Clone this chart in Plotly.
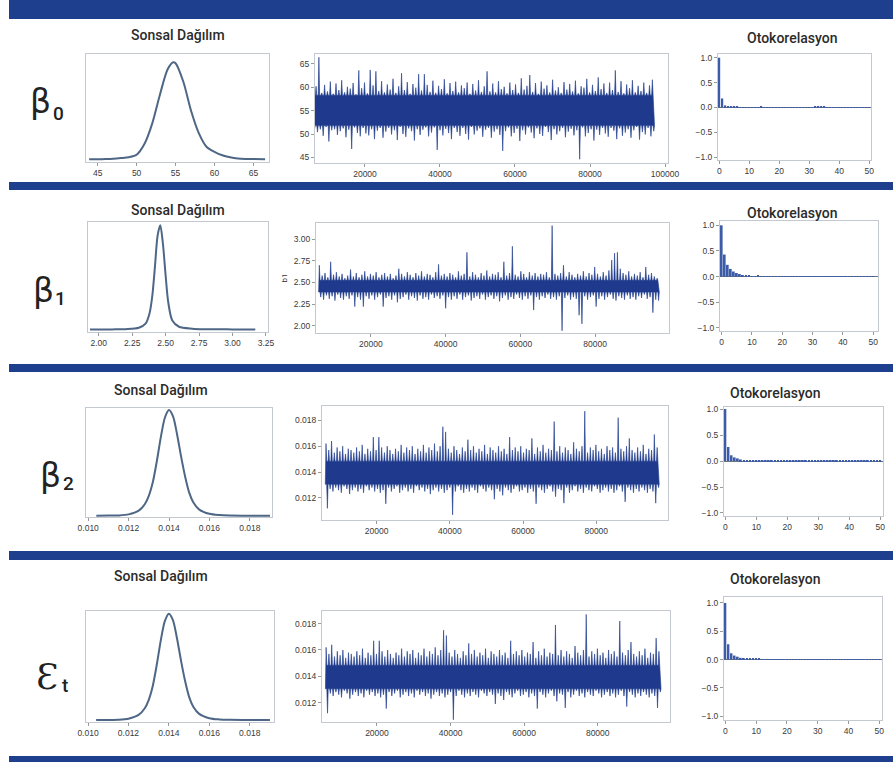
import plotly.graph_objects as go

W, H = 893, 762

# ---------------- DATA ----------------
# Posterior density (relative heights)
d0_x = [43.9, 45, 46, 47, 48, 49, 50, 51, 52, 53, 54, 54.7, 55, 56, 57, 58, 59, 60, 61, 62, 63, 64, 65, 66.5]
d0_y = [.004, .005, .006, .009, .016, .025, .05, .16, .37, .67, .93, 1.0, .99, .80, .50, .27, .13, .08, .045, .025, .013, .008, .006, .004]

d1_x = [1.935, 2.0, 2.1, 2.2, 2.3, 2.35, 2.38, 2.40, 2.42, 2.44, 2.46, 2.48, 2.50, 2.52, 2.55, 2.60, 2.70, 2.80, 3.0, 3.17]
d1_y = [.004, .004, .005, .007, .02, .06, .16, .32, .60, .90, 1.0, .82, .52, .26, .09, .03, .012, .007, .005, .004]

d2_x = [0.0104, 0.0110, 0.0115, 0.0120, 0.0125, 0.0128, 0.0130, 0.0132, 0.0134, 0.0136, 0.0138, 0.0140,
        0.0142, 0.0144, 0.0146, 0.0148, 0.0150, 0.0152, 0.0155, 0.0160, 0.0165, 0.0170, 0.0180, 0.0190]
d2_y = [.002, .003, .005, .015, .05, .11, .19, .32, .52, .75, .93, 1.0,
        .94, .77, .56, .37, .22, .13, .06, .02, .008, .004, .002, .002]

# Trace plots: dense central band of the chain (low, high) and the max / min inside each block of iterations
iter_start, iter_step = 6000, 760

b0_core = (51.8, 58.3)
b0_hi = [59.5, 60.2, 66.4, 58.8, 60.5, 59.1, 61.2, 58.6, 60.8, 59.4,
         61.5, 58.9, 60.1, 59.7, 60.9, 58.5, 63.6, 59.8, 61.0, 58.7,
         63.7, 60.4, 63.4, 59.2, 61.3, 58.9, 60.6, 59.5, 61.8, 58.8,
         60.2, 63.0, 59.4, 61.1, 58.6, 60.7, 59.9, 62.8, 59.3, 62.8,
         60.5, 59.0, 61.4, 58.8, 60.3, 59.6, 61.7, 58.7, 60.9, 59.2,
         61.2, 58.9, 60.4, 59.8, 61.0, 58.6, 60.7, 59.3, 61.5, 59.0,
         60.2, 63.4, 59.1, 60.8, 58.9, 61.3, 59.6, 60.1, 58.7, 61.0,
         59.4, 60.6, 58.8, 61.9, 59.5, 60.3, 62.6, 59.0, 60.9, 58.6,
         61.2, 59.7, 60.4, 58.9, 61.6, 59.3, 60.0, 58.8, 61.1, 59.5,
         60.7, 59.1, 61.4, 58.7, 60.2, 59.9, 61.8, 58.9, 60.5, 59.2,
         62.1, 59.6, 60.8, 58.8, 61.0, 59.4, 63.6, 59.0, 61.3, 58.7,
         60.6, 59.8, 61.5, 58.9, 60.3, 59.2, 61.0, 58.8, 60.4, 61.6]
b0_lo = [51.2, 50.4, 51.0, 49.6, 51.5, 48.4, 50.8, 51.0, 49.8, 50.6,
         51.2, 49.3, 50.9, 46.8, 51.4, 50.2, 49.5, 51.3, 50.1, 49.7,
         51.0, 48.9, 50.7, 51.3, 49.2, 50.5, 51.3, 49.9, 50.8, 48.7,
         51.5, 50.0, 49.4, 51.2, 50.6, 48.6, 51.0, 49.8, 50.9, 51.4,
         49.5, 50.3, 51.4, 46.6, 50.8, 49.7, 51.1, 50.2, 48.9, 51.3,
         50.4, 49.6, 51.3, 50.0, 48.8, 51.5, 49.9, 50.7, 51.2, 49.4,
         50.9, 51.3, 49.2, 50.5, 51.0, 49.8, 46.4, 50.6, 51.4, 49.5,
         50.2, 51.1, 48.5, 50.8, 49.9, 51.4, 50.3, 49.1, 51.2, 50.0,
         49.6, 51.5, 50.4, 48.7, 51.0, 49.9, 50.6, 51.3, 49.3, 50.5,
         51.1, 49.7, 50.8, 44.6, 51.4, 49.5, 50.2, 51.0, 48.6, 50.9,
         49.8, 51.3, 50.1, 49.4, 51.3, 50.7, 48.9, 51.2, 49.6, 50.3,
         51.0, 49.2, 50.8, 51.5, 48.8, 50.4, 49.9, 51.3, 49.5, 50.6]

b1_core = (2.39, 2.525)
b1_hi = [2.70, 2.58, 2.61, 2.56, 2.74, 2.59, 2.62, 2.57, 2.60, 2.55,
         2.58, 2.65, 2.57, 2.61, 2.56, 2.59, 2.63, 2.57, 2.60, 2.58,
         2.62, 2.56, 2.59, 2.61, 2.57, 2.60, 2.55, 2.58, 2.66, 2.60,
         2.57, 2.62, 2.59, 2.56, 2.61, 2.58, 2.63, 2.57, 2.60, 2.59,
         2.56, 2.62, 2.71, 2.58, 2.60, 2.57, 2.61, 2.59, 2.56, 2.63,
         2.58, 2.60, 2.85, 2.57, 2.62, 2.59, 2.56, 2.61, 2.58, 2.64,
         2.57, 2.60, 2.59, 2.62, 2.56, 2.74, 2.58, 2.61, 2.92, 2.59,
         2.57, 2.63, 2.60, 2.56, 2.62, 2.58, 2.61, 2.57, 2.60, 2.59,
         2.62, 2.56, 3.16, 2.60, 2.58, 2.61, 2.70, 2.57, 2.62, 2.59,
         2.56, 2.60, 2.58, 2.63, 2.57, 2.61, 2.59, 2.68, 2.60, 2.57,
         2.62, 2.58, 2.64, 2.76, 2.84, 2.85, 2.66, 2.61, 2.59, 2.63,
         2.57, 2.60, 2.58, 2.62, 2.56, 2.68, 2.59, 2.61, 2.57, 2.55]
b1_lo = [2.33, 2.30, 2.35, 2.31, 2.34, 2.29, 2.36, 2.32, 2.30, 2.34,
         2.31, 2.35, 2.22, 2.33, 2.30, 2.22, 2.34, 2.31, 2.35, 2.30,
         2.33, 2.36, 2.22, 2.32, 2.34, 2.30, 2.35, 2.27, 2.31, 2.33,
         2.36, 2.30, 2.34, 2.32, 2.29, 2.35, 2.31, 2.33, 2.30, 2.36,
         2.32, 2.34, 2.31, 2.35, 2.20, 2.33, 2.30, 2.34, 2.31, 2.36,
         2.30, 2.33, 2.35, 2.29, 2.32, 2.34, 2.31, 2.36, 2.30, 2.33,
         2.35, 2.31, 2.34, 2.28, 2.32, 2.35, 2.30, 2.33, 2.31, 2.36,
         2.32, 2.30, 2.34, 2.31, 2.35, 2.18, 2.33, 2.30, 2.34, 2.32,
         2.36, 2.31, 2.33, 2.30, 2.34, 1.94, 2.32, 2.35, 2.30, 2.33,
         2.31, 2.12, 2.02, 2.34, 2.30, 2.33, 2.35, 2.22, 2.31, 2.34,
         2.30, 2.33, 2.36, 2.31, 2.29, 2.34, 2.32, 2.30, 2.35, 2.31,
         2.33, 2.30, 2.34, 2.32, 2.36, 2.31, 2.33, 2.15, 2.30, 2.29]

b2_core = (0.01306, 0.01484)
b2_hi = [.0162, .0157, .0164, .0155, .0159, .0156, .0160, .0154, .0158, .0157,
         .0155, .0159, .0156, .0161, .0154, .0158, .0156, .0167, .0157, .0167,
         .0159, .0155, .0160, .0157, .0154, .0158, .0156, .0161, .0155, .0159,
         .0157, .0160, .0154, .0158, .0156, .0161, .0155, .0159, .0157, .0162,
         .0156, .0160, .0175, .0171, .0158, .0155, .0160, .0157, .0154, .0159,
         .0156, .0165, .0157, .0160, .0155, .0158, .0156, .0161, .0154, .0159,
         .0157, .0155, .0160, .0156, .0158, .0154, .0167, .0157, .0159, .0156,
         .0160, .0155, .0158, .0157, .0166, .0154, .0159, .0156, .0161, .0155,
         .0158, .0157, .0179, .0156, .0160, .0155, .0159, .0157, .0154, .0163,
         .0158, .0156, .0160, .0187, .0155, .0159, .0157, .0161, .0156, .0158,
         .0154, .0160, .0157, .0159, .0155, .0182, .0158, .0156, .0160, .0166,
         .0157, .0155, .0159, .0156, .0161, .0154, .0158, .0157, .0169, .0159]
b2_lo = [.0112, .0127, .0125, .0128, .0126, .0124, .0129, .0127, .0123, .0126,
         .0128, .0125, .0127, .0124, .0129, .0126, .0128, .0125, .0127, .0124,
         .0126, .01155, .0128, .0125, .0127, .0129, .0124, .0126, .0128, .0125,
         .0127, .0124, .0129, .0126, .0128, .0125, .0127, .0123, .0126, .0128,
         .0125, .0127, .0124, .0126, .0128, .0107, .0125, .0129, .0126, .0124,
         .0127, .0125, .0128, .0126, .0124, .0129, .0127, .0125, .0128, .0126,
         .0119, .0127, .0125, .0122, .0128, .0126, .0124, .0127, .0129, .0125,
         .0126, .0128, .0124, .0127, .0125, .01155, .0128, .0126, .0124, .0127,
         .0129, .0125, .0121, .0127, .0126, .0116, .0128, .0124, .0126, .0129,
         .0125, .0127, .0124, .0128, .0126, .0125, .0129, .0127, .0124, .0126,
         .0128, .0125, .0127, .0124, .0126, .0129, .0125, .0117, .0128, .0126,
         .0124, .0127, .0125, .0128, .0126, .0124, .0127, .0125, .0116, .0128]

# Autocorrelation, lags 0..50
lags = list(range(51))
acf_b0 = [1.0, 0.18, 0.04, 0.02, 0.012, 0.010, 0.008, 0.006, 0.007, 0.005, 0.006, 0.004, 0.005, 0.006, 0.008, 0.005, 0.004,
          0.006, 0.005, 0.007, 0.004, 0.005, 0.006, 0.004, 0.005, 0.007, 0.005, 0.004, 0.006, 0.005, 0.004, 0.006, 0.008,
          0.015, 0.010, 0.008, 0.006, 0.007, 0.005, 0.006, 0.004, 0.005, 0.006, 0.004, 0.005, 0.007, 0.004, 0.005, 0.003,
          0.004, 0.003]
acf_b1 = [1.0, 0.43, 0.23, 0.15, 0.10, 0.07, 0.05, 0.03, 0.02, 0.015, 0.012, 0.01, 0.015, 0.01, 0.008, 0.007, 0.006,
          0.008, 0.006, 0.005, 0.007, 0.006, 0.005, 0.004, 0.006, 0.008, 0.005, 0.004, 0.006, 0.005, 0.004, 0.005, 0.006,
          0.004, 0.005, 0.004, 0.003, 0.005, 0.004, 0.006, 0.005, 0.004, 0.003, 0.005, 0.004, 0.006, 0.005, 0.004, 0.003,
          0.005, 0.004]
acf_b2 = [1.0, 0.27, 0.11, 0.07, 0.05, 0.03, 0.02, 0.018, 0.015, 0.012, 0.01, 0.012, 0.008, 0.006, 0.007, 0.005, 0.006,
          0.008, 0.005, 0.004, 0.006, 0.005, 0.004, 0.006, 0.005, 0.007, 0.005, 0.004, 0.006, 0.005, 0.004, 0.006, 0.007,
          0.005, 0.004, 0.008, 0.006, 0.005, 0.004, 0.006, 0.005, 0.004, 0.006, 0.005, 0.004, 0.007, 0.005, 0.004, 0.006,
          0.004, 0.003]

row_symbols = ["β", "β", "β", "Ɛ"]
row_subscripts = ["0", "1", "2", "t"]
trace_ticks = [20000, 40000, 60000, 80000, 100000]

# ---------------- LAYOUT HELPERS ----------------
BLUE = "#1e3f8e"
TRACE = "#1f3a8c"
DENS = "#4e6786"
BAR = "#3d5ca8"
BOX = "#c3c8d1"


def dx(a, b):
    return [a / W, b / W]


def dy(top, bottom):
    return [1 - bottom / H, 1 - top / H]


def trace_polygon(core, hi, lo):
    """Solid central band with a thin excursion to every block maximum (top) and minimum (bottom)."""
    clo, chi = core
    s = iter_step
    top_x, top_y, bot_x, bot_y = [], [], [], []
    for i, (h, l) in enumerate(zip(hi, lo)):
        it = iter_start + i * s
        top_x += [it, it + s * 0.25, it + s * 0.5]
        top_y += [chi, h, chi]
        bot_x += [it + s * 0.5, it + s * 0.75, it + s]
        bot_y += [clo, l, clo]
    xs = [iter_start] + top_x + bot_x[::-1] + [iter_start]
    ys = [clo] + top_y + bot_y[::-1] + [clo]
    return xs, ys


tickfont = dict(family="Liberation Sans, Arial, sans-serif", size=8.5, color="#3a3a3a")
base_ax = dict(showline=True, linecolor=BOX, linewidth=1, mirror=True, ticks="outside", ticklen=3,
               tickcolor="#999", tickfont=tickfont, showgrid=False, zeroline=False, fixedrange=True,
               automargin=False)

rows = [
    dict(dens=(d0_x, d0_y), dbox=(86, 269, 54, 162), dxr=[43.5, 67.0], dyr=[-0.024, 1.085],
         dticks=[45, 50, 55, 60, 65], dfmt="d",
         core=b0_core, hi=b0_hi, lo=b0_lo, tbox=(315, 668, 54, 163), txr=[6670, 100800], tyr=[43.8, 67.1],
         tyticks=[45, 50, 55, 60, 65], tyfmt="d", ytitle=None,
         acf=acf_b0, abox=(718, 871, 54, 160), axr=[-0.43, 50.57], ayr=[-1.06, 1.075],
         st=(178, 35), ot=(792, 38), sym=(40, 101), sub=(58, 114)),
    dict(dens=(d1_x, d1_y), dbox=(88, 268, 222, 332), dxr=[1.92, 3.265], dyr=[-0.02, 1.03],
         dticks=[2.0, 2.25, 2.5, 2.75, 3.0, 3.25], dfmt=".2f",
         core=b1_core, hi=b1_hi, lo=b1_lo, tbox=(316, 669, 223, 333), txr=[5300, 99800], tyr=[1.914, 3.19],
         tyticks=[2.0, 2.25, 2.5, 2.75, 3.0], tyfmt=".2f", ytitle="b1",
         acf=acf_b1, abox=(720, 878, 221, 331), axr=[-0.56, 51.6], ayr=[-1.06, 1.084],
         st=(178, 210), ot=(792, 213), sym=(43, 290), sub=(61, 298)),
    dict(dens=(d2_x, d2_y), dbox=(86, 272, 408, 517), dxr=[0.00989, 0.0191], dyr=[-0.01, 1.02],
         dticks=[0.010, 0.012, 0.014, 0.016, 0.018], dfmt=".3f",
         core=b2_core, hi=b2_hi, lo=b2_lo, tbox=(322, 668, 406, 520), txr=[5100, 99600], tyr=[0.0103, 0.0191],
         tyticks=[0.012, 0.014, 0.016, 0.018], tyfmt=".3f", ytitle=None,
         acf=acf_b2, abox=(724, 883, 407, 516), axr=[-0.45, 50.9], ayr=[-1.058, 1.039],
         st=(161, 390), ot=(775, 393), sym=(50, 475), sub=(68, 483)),
    dict(dens=(d2_x, d2_y), dbox=(86, 274, 611, 722), dxr=[0.0099, 0.0192], dyr=[-0.016, 1.025],
         dticks=[0.010, 0.012, 0.014, 0.016, 0.018], dfmt=".3f",
         core=b2_core, hi=b2_hi, lo=b2_lo, tbox=(322, 670, 611, 722), txr=[5070, 99640], tyr=[0.01053, 0.01896],
         tyticks=[0.012, 0.014, 0.016, 0.018], tyfmt=".3f", ytitle=None,
         acf=acf_b2, abox=(724, 882, 597, 720), axr=[-0.45, 50.9], ayr=[-1.07, 1.106],
         st=(161, 576), ot=(775, 579), sym=(47, 676), sub=(65, 685)),
]

fig = go.Figure()
layout = dict(width=W, height=H, margin=dict(l=0, r=0, t=0, b=0, autoexpand=False), paper_bgcolor="white",
              plot_bgcolor="white", showlegend=False, font=dict(family="Roboto, sans-serif"),
              template="none")
annotations = []
shapes = []

n = 0
for r in rows:
    # density panel
    n += 1
    xa, ya = f"xaxis{n}", f"yaxis{n}"
    x0, x1, y0, y1 = r["dbox"]
    fig.add_trace(go.Scatter(x=r["dens"][0], y=r["dens"][1], mode="lines",
                             line=dict(color=DENS, width=2, shape="spline", smoothing=0.8),
                             xaxis=f"x{n}", yaxis=f"y{n}", hoverinfo="skip"))
    layout[xa] = dict(base_ax, domain=dx(x0, x1), range=r["dxr"], anchor=f"y{n}",
                      tickvals=r["dticks"], tickformat=r["dfmt"])
    layout[ya] = dict(base_ax, domain=dy(y0, y1), range=r["dyr"], anchor=f"x{n}",
                      showticklabels=False, ticks="")

    # trace panel
    n += 1
    xa, ya = f"xaxis{n}", f"yaxis{n}"
    x0, x1, y0, y1 = r["tbox"]
    px, py = trace_polygon(r["core"], r["hi"], r["lo"])
    fig.add_trace(go.Scatter(x=px, y=py, mode="lines", fill="toself", fillcolor=TRACE,
                             line=dict(color=TRACE, width=0.6),
                             xaxis=f"x{n}", yaxis=f"y{n}", hoverinfo="skip"))
    layout[xa] = dict(base_ax, domain=dx(x0, x1), range=r["txr"], anchor=f"y{n}",
                      tickvals=trace_ticks, tickformat="d")
    layout[ya] = dict(base_ax, domain=dy(y0, y1), range=r["tyr"], anchor=f"x{n}",
                      tickvals=r["tyticks"], tickformat=r["tyfmt"])
    if r["ytitle"]:
        layout[ya]["title"] = dict(text=r["ytitle"], font=dict(size=8, color="#333"), standoff=4)

    # acf panel
    n += 1
    xa, ya = f"xaxis{n}", f"yaxis{n}"
    x0, x1, y0, y1 = r["abox"]
    fig.add_trace(go.Bar(x=lags, y=r["acf"], width=0.6, marker=dict(color=BAR, line=dict(width=0)),
                         xaxis=f"x{n}", yaxis=f"y{n}", hoverinfo="skip"))
    layout[xa] = dict(base_ax, domain=dx(x0, x1), range=r["axr"], anchor=f"y{n}",
                      tickvals=[0, 10, 20, 30, 40, 50], tickformat="d")
    layout[ya] = dict(base_ax, domain=dy(y0, y1), range=r["ayr"], anchor=f"x{n}",
                      tickvals=[-1.0, -0.5, 0.0, 0.5, 1.0], tickformat=".1f",
                      zeroline=True, zerolinecolor="#6b7280", zerolinewidth=1)

    # texts
    annotations.append(dict(text="Sonsal Dağılım", x=r["st"][0] / W, y=1 - r["st"][1] / H, xref="paper",
                            yref="paper", showarrow=False, xanchor="center", yanchor="middle",
                            font=dict(family="Roboto, sans-serif", size=14, weight=500, color="#2b2b2b")))
    annotations.append(dict(text="Otokorelasyon", x=r["ot"][0] / W, y=1 - r["ot"][1] / H, xref="paper",
                            yref="paper", showarrow=False, xanchor="center", yanchor="middle",
                            font=dict(family="Roboto, sans-serif", size=14, weight=500, color="#2b2b2b")))

for i, r in enumerate(rows):
    sym_font = dict(family="DejaVu Serif, serif", size=36, color="#222") if row_symbols[i] == "Ɛ" \
        else dict(family="DejaVu Sans, sans-serif", size=33, color="#222")
    annotations.append(dict(text=row_symbols[i], x=r["sym"][0] / W, y=1 - r["sym"][1] / H, xref="paper",
                            yref="paper", showarrow=False, xanchor="center", yanchor="middle", font=sym_font,
                            borderpad=0))
    annotations.append(dict(text=row_subscripts[i], x=r["sub"][0] / W, y=1 - r["sub"][1] / H, xref="paper",
                            yref="paper", showarrow=False, xanchor="center", yanchor="middle", borderpad=0,
                            font=dict(family="Roboto, sans-serif", size=19, weight=500, color="#222")))

# decorative blue separators
for top, bottom in [(0, 19), (182, 190), (364, 372), (551, 560), (756, 762)]:
    shapes.append(dict(type="rect", xref="paper", yref="paper", x0=9 / W, x1=1,
                       y0=1 - bottom / H, y1=1 - top / H, fillcolor=BLUE, line=dict(width=0), layer="above"))

layout["annotations"] = annotations
layout["shapes"] = shapes
fig.update_layout(**layout)
fig.write_html("out.html", config={"displayModeBar": False},
               post_script="document.body.style.margin='0';document.body.style.padding='0';"
                           "document.body.style.overflow='hidden';")
